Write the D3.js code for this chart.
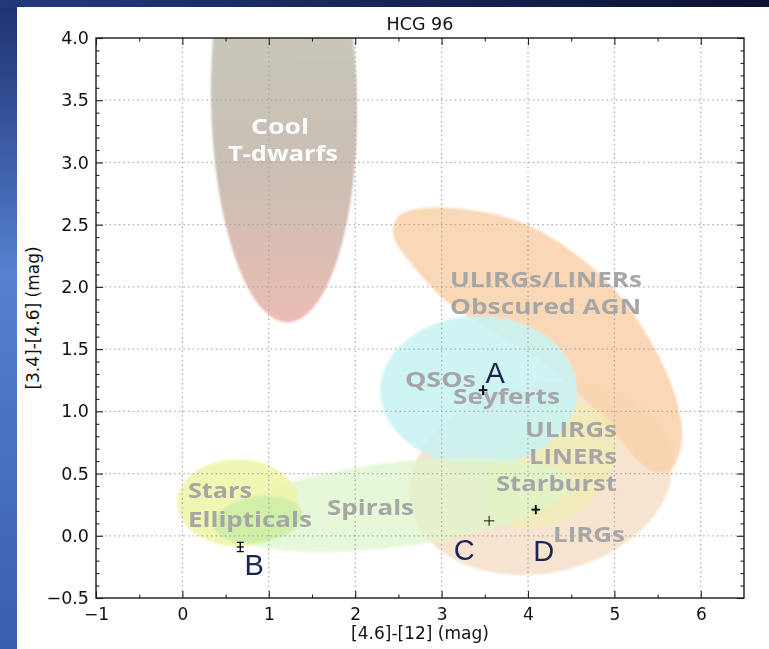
<!DOCTYPE html>
<html>
<head>
<meta charset="utf-8">
<script src="https://cdn.jsdelivr.net/npm/d3@7"></script>
<style>
  html, body { margin: 0; padding: 0; background: #2b4590; }
  svg { display: block; }
</style>
</head>
<body>
<div id="chart"></div>
<script>
// ---- data -------------------------------------------------------------
// Measured WISE colours of the four galaxies in the group
const sources   = ["A", "B", "C", "D"];
const colour46_12 = [3.48, 0.67, 3.55, 4.09];   // [4.6]-[12]
const colour34_46 = [1.17, -0.09, 0.12, 0.21];  // [3.4]-[4.6]
const errX = [0.05, 0.04, 0.06, 0.05];
const errY = [0.04, 0.037, 0.04, 0.037];

const xTickValues = [-1, 0, 1, 2, 3, 4, 5, 6];
const yTickValues = [-0.5, 0, 0.5, 1, 1.5, 2, 2.5, 3, 3.5, 4];

// Object-class regions of the colour-colour plane (data units)
const ellipseRegions = [
  { name: "LIRGs",       c: [4.15, 0.46],  r: [1.54, 0.76],  rot: -12 },
  { name: "Starburst",   c: [4.27, 0.56],  r: [0.86, 0.42],  rot: -40 },
  { name: "QSOs",        c: [3.43, 1.165], r: [1.14, 0.60],  rot: 0 },
  { name: "Spirals",     c: [2.46, 0.25],  r: [2.03, 0.34],  rot: -7 },
  { name: "Stars",       c: [0.64, 0.265], r: [0.70, 0.35],  rot: 0 },
  { name: "Ellipticals", c: [0.875, 0.13], r: [0.52, 0.185], rot: -8 },
  { name: "TDwarfs",     c: [1.176, 3.50], r: [0.845, 1.784], rot: -1 }
];
const obscuredAgnOutline = [
  [2.438, 2.473], [2.519, 2.578], [2.808, 2.634], [3.329, 2.618], [3.907, 2.522],
  [4.486, 2.297], [5.007, 1.975], [5.412, 1.573], [5.701, 1.131], [5.782, 0.770],
  [5.644, 0.529], [5.412, 0.529], [5.065, 0.770], [4.660, 1.091], [4.139, 1.413],
  [3.560, 1.654], [3.039, 1.895], [2.634, 2.201], [2.470, 2.360]
];

// Region captions, anchored at their centre/baseline in data units
const captionText = ["Cool", "T-dwarfs", "ULIRGs/LINERs", "Obscured AGN", "QSOs", "Seyferts",
  "ULIRGs", "LINERs", "Starburst", "LIRGs", "Spirals", "Stars", "Ellipticals"];
const captionX = [1.130, 1.164, 4.208, 4.203, 2.987, 3.751, 4.498, 4.521, 4.330, 4.706, 2.177, 0.435, 0.782];
const captionY = [3.229, 3.012, 2.000, 1.782, 1.196, 1.059, 0.794, 0.577, 0.360, -0.050, 0.167, 0.304, 0.071];

// ---- layout & style ---------------------------------------------------
const W = 769, H = 649;
const plot = { left: 96, right: 744, top: 38, bottom: 598 };
const regionFill = {
  LIRGs: "#f5e3cf", Agn: "#f9d4ae", Starburst: "#eef3a6", QSOs: "#c8f2f2", Spirals: "#def6cb",
  Stars: "#eff5aa", Ellipticals: "#caeea6"
};
const regionOpacity = {
  LIRGs: 0.95, Agn: 0.9, Starburst: 0.5, QSOs: 0.88, Spirals: 0.75, Stars: 0.9, Ellipticals: 0.8
};
const captionWidth = [58, 110, 192, 191, 71, 107, 92, 88, 121, 72, 87, 64, 124];
const labelOffset = [[12, -7], [14, 28], [-25, 39], [8, 51]];
const crossWidth = [2, 1.4, 1, 2];

const x = d3.scaleLinear().domain([-1, 6.5]).range([plot.left, plot.right]);
const y = d3.scaleLinear().domain([-0.5, 4]).range([plot.bottom, plot.top]);

const svg = d3.select("#chart").append("svg")
  .attr("width", W).attr("height", H)
  .attr("viewBox", `0 0 ${W} ${H}`);

const defs = svg.append("defs");

// slide background
const bgV = defs.append("linearGradient").attr("id", "bgV")
  .attr("x1", 0).attr("y1", 0).attr("x2", 0).attr("y2", 1);
bgV.append("stop").attr("offset", "0").attr("stop-color", "#1d2f70");
bgV.append("stop").attr("offset", "0.42").attr("stop-color", "#5581d0");
bgV.append("stop").attr("offset", "1").attr("stop-color", "#3b5db0");
const bgH = defs.append("linearGradient").attr("id", "bgH")
  .attr("x1", 0).attr("y1", 0).attr("x2", 1).attr("y2", 0);
bgH.append("stop").attr("offset", "0").attr("stop-color", "#24377c");
bgH.append("stop").attr("offset", "1").attr("stop-color", "#0a1232");

const tGrad = defs.append("linearGradient").attr("id", "tdwarf")
  .attr("gradientUnits", "userSpaceOnUse")
  .attr("x1", 0).attr("y1", y(4)).attr("x2", 0).attr("y2", y(1.72));
tGrad.append("stop").attr("offset", "0").attr("stop-color", "#c9c6bb");
tGrad.append("stop").attr("offset", "0.45").attr("stop-color", "#c9bfb5");
tGrad.append("stop").attr("offset", "1").attr("stop-color", "#ebbcb3");

defs.append("filter").attr("id", "soft")
  .append("feGaussianBlur").attr("stdDeviation", 1.1);

defs.append("clipPath").attr("id", "plotClip")
  .append("rect")
  .attr("x", plot.left).attr("y", plot.top)
  .attr("width", plot.right - plot.left).attr("height", plot.bottom - plot.top);

svg.append("rect").attr("width", W).attr("height", H).attr("fill", "url(#bgV)");
svg.append("rect").attr("width", W).attr("height", 8).attr("fill", "url(#bgH)");
svg.append("rect").attr("x", 17).attr("y", 7).attr("width", W - 17).attr("height", H - 7)
  .attr("fill", "#ffffff");

// ---- regions ------------------------------------------------------------
const regions = svg.append("g").attr("clip-path", "url(#plotClip)")
  .append("g").attr("filter", "url(#soft)");

function drawEllipse(g, e) {
  const cx = x(e.c[0]), cy = y(e.c[1]);
  return g.append("ellipse")
    .attr("cx", cx).attr("cy", cy)
    .attr("rx", x(e.c[0] + e.r[0]) - cx)
    .attr("ry", cy - y(e.c[1] + e.r[1]))
    .attr("transform", `rotate(${e.rot},${cx},${cy})`);
}
const byName = Object.fromEntries(ellipseRegions.map(e => [e.name, e]));

drawEllipse(regions, byName.TDwarfs).attr("fill", "url(#tdwarf)");
drawEllipse(regions, byName.LIRGs)
  .attr("fill", regionFill.LIRGs).attr("opacity", regionOpacity.LIRGs);
regions.append("path")
  .datum(obscuredAgnOutline)
  .attr("d", d3.line().x(d => x(d[0])).y(d => y(d[1])).curve(d3.curveCatmullRomClosed))
  .attr("fill", regionFill.Agn).attr("opacity", regionOpacity.Agn);
drawEllipse(regions, byName.Starburst)
  .attr("fill", regionFill.Starburst).attr("opacity", regionOpacity.Starburst);
drawEllipse(regions, byName.QSOs)
  .attr("fill", regionFill.QSOs).attr("opacity", regionOpacity.QSOs);
["Spirals", "Stars", "Ellipticals"].forEach(n =>
  drawEllipse(regions, byName[n]).attr("fill", regionFill[n]).attr("opacity", regionOpacity[n]));

// ---- grid ---------------------------------------------------------------
const grid = svg.append("g");
grid.selectAll("line.gx").data(xTickValues.slice(1)).join("line")
  .attr("x1", d => x(d)).attr("x2", d => x(d))
  .attr("y1", plot.top).attr("y2", plot.bottom);
grid.selectAll("line.gy").data(yTickValues.slice(1, -1)).join("line")
  .attr("y1", d => y(d)).attr("y2", d => y(d))
  .attr("x1", plot.left).attr("x2", plot.right);
grid.selectAll("line")
  .attr("stroke", "#a8a8a8").attr("stroke-width", 1.3)
  .attr("stroke-dasharray", "1.4,3.2");

// ---- captions -----------------------------------------------------------
svg.append("g").selectAll("text").data(captionText).join("text")
  .attr("x", (d, i) => x(captionX[i]))
  .attr("y", (d, i) => y(captionY[i]))
  .attr("text-anchor", "middle")
  .attr("textLength", (d, i) => captionWidth[i])
  .attr("lengthAdjust", "spacingAndGlyphs")
  .attr("font-family", "'Open Sans', 'Noto Sans', sans-serif")
  .attr("font-weight", 700)
  .attr("font-size", 21)
  .attr("fill", (d, i) => i < 2 ? "#ffffff" : "#a6a6a6")
  .attr("fill-opacity", (d, i) => i < 2 ? 0.95 : 1)
  .text(d => d);

// ---- axes ---------------------------------------------------------------
const frame = svg.append("g");
const xMinor = d3.range(-0.5, 6.5, 1);
const yMinor = d3.range(-5, 41).map(v => v / 10).filter(v => Math.round(v * 10) % 5 !== 0);

const axisFont = "'DejaVu Sans', sans-serif";
const axB = d3.axisBottom(x).tickValues(xTickValues).tickSize(-7).tickPadding(10).tickFormat(d3.format("d"));
const axT = d3.axisTop(x).tickValues(xTickValues).tickSize(-7).tickFormat("");
const axL = d3.axisLeft(y).tickValues(yTickValues).tickSize(-7).tickPadding(7).tickFormat(d3.format(".1f"));
const axR = d3.axisRight(y).tickValues(yTickValues).tickSize(-7).tickFormat("");
const mB = d3.axisBottom(x).tickValues(xMinor).tickSize(-3.5).tickFormat("");
const mT = d3.axisTop(x).tickValues(xMinor).tickSize(-3.5).tickFormat("");
const mL = d3.axisLeft(y).tickValues(yMinor).tickSize(-3.5).tickFormat("");
const mR = d3.axisRight(y).tickValues(yMinor).tickSize(-3.5).tickFormat("");

function place(ax, tx, ty, fs) {
  const g = frame.append("g").attr("transform", `translate(${tx},${ty})`).call(ax);
  g.select(".domain").remove();
  g.selectAll(".tick line").attr("stroke", "#222").attr("stroke-width", 1.1);
  g.selectAll("text").attr("font-family", axisFont).attr("font-size", fs || 17).attr("fill", "#111");
  return g;
}
place(axB, 0, plot.bottom, 17);
place(axT, 0, plot.top);
place(axL, plot.left, 0, 17.5);
place(axR, plot.right, 0);
place(mB, 0, plot.bottom);
place(mT, 0, plot.top);
place(mL, plot.left, 0);
place(mR, plot.right, 0);

frame.append("rect")
  .attr("x", plot.left).attr("y", plot.top)
  .attr("width", plot.right - plot.left).attr("height", plot.bottom - plot.top)
  .attr("fill", "none").attr("stroke", "#1a1a1a").attr("stroke-width", 1.4);

svg.append("text").attr("x", (plot.left + plot.right) / 2).attr("y", 30)
  .attr("text-anchor", "middle").attr("font-family", axisFont).attr("font-size", 17.5)
  .attr("fill", "#111").text("HCG 96");
svg.append("text").attr("x", (plot.left + plot.right) / 2).attr("y", 639)
  .attr("text-anchor", "middle").attr("font-family", axisFont).attr("font-size", 17)
  .attr("fill", "#111").text("[4.6]-[12] (mag)");
svg.append("text")
  .attr("transform", `translate(39,${(plot.top + plot.bottom) / 2}) rotate(-90)`)
  .attr("text-anchor", "middle").attr("font-family", axisFont).attr("font-size", 17)
  .attr("fill", "#111").text("[3.4]-[4.6] (mag)");

// ---- measured sources -----------------------------------------------------
const pts = svg.append("g").selectAll("g").data(sources).join("g");
pts.each(function (name, i) {
  const g = d3.select(this);
  const px = x(colour46_12[i]), py = y(colour34_46[i]);
  const x0 = x(colour46_12[i] - errX[i]), x1 = x(colour46_12[i] + errX[i]);
  const y0 = y(colour34_46[i] - errY[i]), y1 = y(colour34_46[i] + errY[i]);
  const sw = crossWidth[i];
  g.append("line").attr("x1", x0).attr("x2", x1).attr("y1", py).attr("y2", py)
    .attr("stroke", "#111").attr("stroke-width", sw);
  g.append("line").attr("x1", px).attr("x2", px).attr("y1", y0).attr("y2", y1)
    .attr("stroke", "#111").attr("stroke-width", sw);
  if (name === "B") {
    [y0, y1].forEach(cy => g.append("line")
      .attr("x1", px - 3.5).attr("x2", px + 3.5).attr("y1", cy).attr("y2", cy)
      .attr("stroke", "#111").attr("stroke-width", 1.3));
  }
  g.append("text")
    .attr("x", px + labelOffset[i][0]).attr("y", py + labelOffset[i][1])
    .attr("text-anchor", "middle")
    .attr("font-family", "'Liberation Sans', Arial, sans-serif")
    .attr("font-size", 29).attr("fill", "#1b2452")
    .text(name);
});
</script>
</body>
</html>
